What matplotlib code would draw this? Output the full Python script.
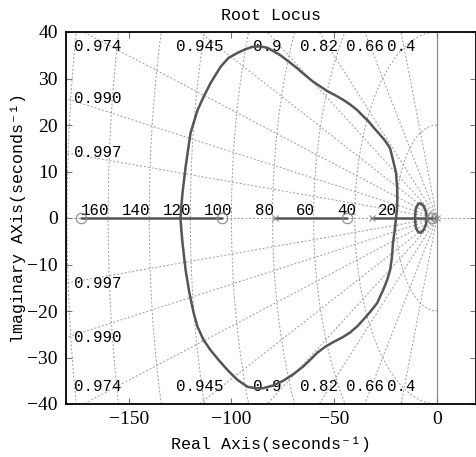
import numpy as np
import matplotlib
matplotlib.use("Agg")
import matplotlib.pyplot as plt

# ---------------- data ----------------
zeta_values = [0.4, 0.66, 0.82, 0.9, 0.945, 0.974, 0.990, 0.997]
zeta_labels = ["0.4", "0.66", "0.82", "0.9", "0.945", "0.974", "0.990", "0.997"]
wn_values = [20, 40, 60, 80, 100, 120, 140, 160, 180]
wn_labels = ["20", "40", "60", "80", "100", "120", "140", "160", "180"]
x_ticks = [-150, -100, -50, 0]
y_ticks = [-40, -30, -20, -10, 0, 10, 20, 30, 40]

# big loop, upper branch (left crossing -> right crossing)
upper_re = [-124.8, -124.3, -123.8, -122.3, -119.9, -116.5, -113.6, -110.2, -105.3,
            -101.5, -97.1, -93.2, -89.8, -86.0, -82.5, -79.6, -76.2, -72.3, -68.0,
            -64.1, -60.2, -56.8, -53.4, -49.5, -45.6, -42.2, -38.8, -35.9, -33.5,
            -31.1, -27.7, -25.2, -22.8, -21.4, -19.9, -19.4, -19.3, -19.4, -19.9]
upper_im = [0.0, 3.0, 5.4, 11.0, 18.3, 23.2, 26.0, 29.0, 32.5,
            34.4, 35.5, 36.3, 36.8, 36.9, 36.6, 35.9, 35.0, 33.7, 32.2,
            30.7, 29.3, 28.3, 27.3, 26.4, 25.4, 24.4, 23.2, 21.9, 20.9,
            19.6, 17.9, 16.6, 15.0, 12.5, 9.7, 6.7, 4.5, 2.2, 0.0]
# big loop, lower branch
lower_re = [-124.8, -124.3, -123.8, -122.3, -120.5, -118.4, -116.5, -113.6, -110.2,
            -106.3, -101.9, -97.1, -92.2, -88.3, -84.5, -79.6, -74.8, -69.9, -65.0,
            -61.7, -58.3, -54.4, -50.5, -46.1, -42.2, -38.8, -35.9, -32.5, -29.1,
            -26.2, -24.3, -22.8, -21.9, -21.4, -20.6, -19.9]
lower_im = [0.0, -3.0, -5.4, -11.2, -16.0, -20.4, -23.4, -26.2, -28.4,
            -30.5, -32.7, -34.8, -36.3, -36.6, -36.6, -36.0, -35.0, -33.6, -31.9,
            -30.5, -29.0, -27.7, -26.7, -25.7, -24.6, -23.3, -21.9, -20.2, -18.3,
            -15.5, -13.4, -11.2, -8.4, -5.4, -2.7, 0.0]
# small loop near the origin
small_re = [-10.7, -10.3, -9.2, -8.0, -6.5, -5.3, -4.9, -5.3, -6.5, -8.0, -9.2, -10.3, -10.7]
small_im = [0.0, 2.0, 3.0, 3.2, 2.6, 1.3, 0.0, -1.3, -2.6, -3.2, -3.0, -2.0, 0.0]
# real-axis locus segments
real_seg_start = [-173.3, -78.6, -31.6]
real_seg_end = [-104.4, -43.7, -0.3]
zeros_re = [-173.3, -104.4, -43.7, -2.4]
poles_re = [-78.6, -31.6, -1.2, -0.2]

# ---------------- figure ----------------
mono = ["Liberation Mono", "DejaVu Sans Mono"]
serif = ["Liberation Serif", "DejaVu Serif"]

fig = plt.figure(figsize=(4.76, 4.57), dpi=100)
ax = fig.add_axes([66 / 476, 53 / 457, 410 / 476, 372 / 457])
xmin, xmax, ymin, ymax = -180.5, 19.0, -40, 40
ax.set_xlim(xmin, xmax)
ax.set_ylim(ymin, ymax)

gcol = "#9a9a9a"
gls = (0, (2.0, 2.0))
glw = 0.7

# damping rays
R = 400
for z in zeta_values:
    th = np.arccos(z)
    for s in (1, -1):
        ax.plot([0, -R * np.cos(th)], [0, s * R * np.sin(th)], color=gcol,
                lw=glw, ls=gls, zorder=1)
# natural-frequency arcs
for w in wn_values:
    t = np.linspace(np.pi / 2, 3 * np.pi / 2, 300)
    ax.plot(w * np.cos(t), w * np.sin(t), color=gcol, lw=glw, ls=gls, zorder=1)
# real axis and imaginary axis
ax.axhline(0, color=gcol, lw=glw, ls=gls, zorder=1)
ax.axvline(0, color="#8c8c8c", lw=0.9, zorder=1)

# zeta labels
pxu = 2.06  # px per x unit (for label clamping)
char_w = 9.4 / pxu
lab_fs = 11.3
for z, lab in zip(zeta_values, zeta_labels):
    th = np.arccos(z)
    tan = np.tan(th)
    w = len(lab) * char_w
    y_left = -xmin * tan
    if y_left < ymax:
        for s in (1, -1):
            ax.text(-176.7, s * y_left, lab, ha="left", va="center",
                    family=mono, fontsize=lab_fs, zorder=3)
    else:
        xi = -ymax / tan
        xc = np.clip(xi, -176.7 + w / 2, -4.9 - w / 2)
        for yc in (36.8, -36.3):
            ax.text(xc, yc, lab, ha="center", va="center",
                    family=mono, fontsize=lab_fs, zorder=3)
# wn labels
for w, lab in zip(wn_values, wn_labels):
    if -w > xmin + 8:
        ax.text(-w + 0.5, 0.7, lab, ha="right", va="baseline",
                family=mono, fontsize=lab_fs, zorder=3)

# locus
lc = "#555555"
llw = 1.8
kw = dict(color=lc, lw=llw, zorder=4, solid_capstyle="round", solid_joinstyle="round")
ax.plot(upper_re, upper_im, **kw)
ax.plot(lower_re, lower_im, **kw)
ax.plot(small_re, small_im, **kw)
for a, b in zip(real_seg_start, real_seg_end):
    ax.plot([a, b], [0, 0], **kw)

# zeros and poles
ax.plot(zeros_re, [0] * len(zeros_re), ls="none", marker="o", ms=7.5,
        mfc="none", mec="#8a8a8a", mew=0.8, zorder=5)
ax.plot(poles_re, [0] * len(poles_re), ls="none", marker="x", ms=5,
        mec="#8a8a8a", mew=0.8, zorder=5)

# axes styling
ax.set_xticks(x_ticks)
ax.set_yticks(y_ticks)
ax.set_xticklabels([("\u2212" + str(-v)) if v < 0 else str(v) for v in x_ticks],
                   family=serif, fontsize=14)
ax.set_yticklabels([("\u2212" + str(-v)) if v < 0 else str(v) for v in y_ticks],
                   family=serif, fontsize=14)
ax.tick_params(direction="in", length=4, width=0.8, top=True, right=True,
               color="#777777")
ax.tick_params(axis="x", pad=5)
ax.tick_params(axis="y", pad=6)
for sp in ax.spines.values():
    sp.set_linewidth(1.3)
    sp.set_color("black")

ax.set_title("Root Locus", family=mono, fontsize=12, pad=9)
ax.set_xlabel("Real Axis(seconds\u207b\u00b9)", family=mono, fontsize=12, labelpad=6)
ax.set_ylabel("lmaginary AXis(seconds\u207b\u00b9)", family=mono, fontsize=12, labelpad=1)

fig.savefig("out.png", dpi=100)
